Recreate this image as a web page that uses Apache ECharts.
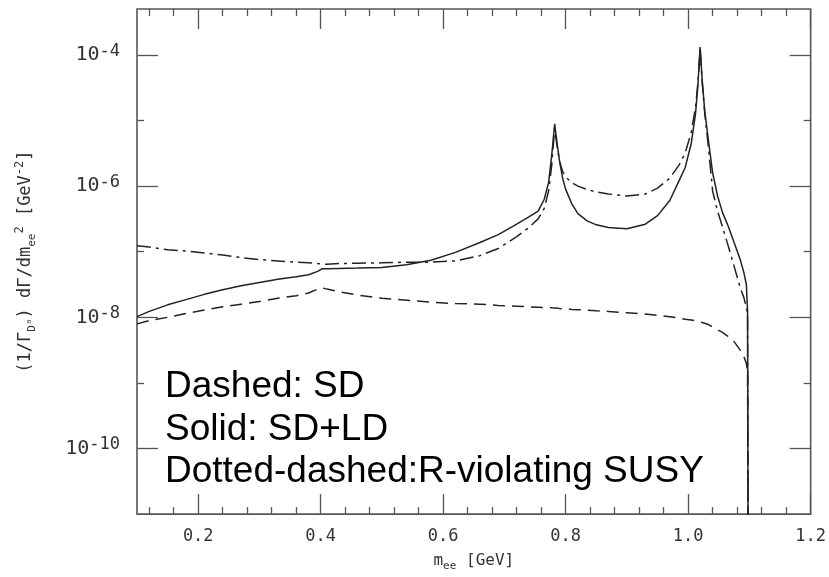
<!DOCTYPE html>
<html>
<head>
<meta charset="utf-8">
<title>D0 -> ee spectrum</title>
<script src="https://cdn.jsdelivr.net/npm/echarts@6/dist/echarts.min.js"></script>
<style>
    html, body { margin: 0; padding: 0; background: #fff; }
    #app { width: 829px; height: 577px; }
</style>
</head>
<body>
<div id="app"></div>
<script>
    // m_ee grid (GeV), shared by the three curves
    var massGrid = [0.10, 0.12, 0.15, 0.18, 0.21, 0.24, 0.27, 0.30, 0.33, 0.36,
        0.38, 0.395, 0.402, 0.41, 0.43, 0.46, 0.50, 0.54, 0.58, 0.62,
        0.66, 0.69, 0.72, 0.74, 0.755, 0.765, 0.772, 0.777, 0.782, 0.786,
        0.79, 0.795, 0.80, 0.81, 0.82, 0.835, 0.85, 0.87, 0.90, 0.93,
        0.95, 0.97, 0.985, 0.995, 1.005, 1.012, 1.016, 1.0195, 1.023, 1.027,
        1.033, 1.04, 1.048, 1.056, 1.065, 1.075, 1.085, 1.091, 1.095, 1.097,
        1.098];

    // log10 of (1/Gamma) dGamma/dm_ee^2
    var logSD = [-8.10, -8.05, -8.00, -7.94, -7.89, -7.84, -7.80, -7.76, -7.71, -7.67,
        -7.63, -7.57, -7.55, -7.57, -7.61, -7.66, -7.71, -7.74, -7.77, -7.79,
        -7.80, -7.82, -7.83, -7.84, -7.845, -7.85, -7.85, -7.855, -7.86, -7.86,
        -7.865, -7.87, -7.87, -7.88, -7.885, -7.89, -7.90, -7.91, -7.93, -7.95,
        -7.97, -7.99, -8.01, -8.03, -8.04, -8.05, -8.06, -8.07, -8.08, -8.09,
        -8.11, -8.15, -8.19, -8.23, -8.29, -8.37, -8.50, -8.60, -8.70, -8.85,
        -12];

    var logSDLD = [-7.99, -7.91, -7.81, -7.73, -7.65, -7.58, -7.52, -7.47, -7.42, -7.38,
        -7.35, -7.30, -7.26, -7.26, -7.255, -7.25, -7.24, -7.20, -7.13, -7.01,
        -6.86, -6.74, -6.58, -6.47, -6.38, -6.20, -5.95, -5.55, -5.05, -5.35,
        -5.62, -5.88, -6.05, -6.27, -6.42, -6.53, -6.59, -6.63, -6.65, -6.58,
        -6.45, -6.22, -5.92, -5.72, -5.35, -4.90, -4.45, -3.88, -4.40, -4.85,
        -5.30, -5.80, -6.15, -6.40, -6.60, -6.86, -7.12, -7.32, -7.50, -7.90,
        -12];

    var logRSUSY = [-6.91, -6.93, -6.97, -6.99, -7.02, -7.05, -7.09, -7.12, -7.14, -7.16,
        -7.17, -7.18, -7.19, -7.19, -7.18, -7.175, -7.17, -7.16, -7.16, -7.14,
        -7.06, -6.95, -6.77, -6.63, -6.50, -6.34, -6.08, -5.70, -5.12, -5.40,
        -5.62, -5.78, -5.86, -5.95, -6.00, -6.05, -6.09, -6.12, -6.15, -6.12,
        -6.03, -5.88, -5.68, -5.50, -5.18, -4.80, -4.42, -3.90, -4.42, -4.88,
        -5.40, -6.08, -6.38, -6.62, -6.90, -7.22, -7.55, -7.70, -7.85, -7.95,
        -12];

    var xMajorTicks = [0.2, 0.4, 0.6, 0.8, 1.0, 1.2];
    var xMinorTicks = [0.12, 0.16, 0.24, 0.28, 0.32, 0.36, 0.44, 0.48, 0.52, 0.56,
        0.64, 0.68, 0.72, 0.76, 0.84, 0.88, 0.92, 0.96, 1.04, 1.08, 1.12, 1.16];
    var yMajorTicks = [-10, -8, -6, -4];
    var yMinorTicks = [-9, -7, -5];

    var legendLines = ['Dashed: SD', 'Solid: SD+LD', 'Dotted-dashed:R-violating SUSY'];

    var frameColor = '#555';
    var textColor = '#333';
    var labelFont = 'DejaVu Sans Mono';

    function pairs(ys) {
        return massGrid.map(function (x, i) { return [x, ys[i]]; });
    }

    // one axis per tick set (major / minor, bottom / top, left / right)
    function xAxisDef(pos, ticks, len, withLabels) {
        return {
            type: 'value', position: pos, min: 0.1, max: 1.2,
            axisLine: {show: false},
            splitLine: {show: false},
            axisTick: {inside: true, length: len, customValues: ticks,
                lineStyle: {color: frameColor, width: 1.3}},
            axisLabel: {show: withLabels, customValues: ticks, margin: 14,
                color: textColor, fontFamily: labelFont, fontSize: 17,
                formatter: function (v) { return v.toFixed(1); }}
        };
    }

    function yAxisDef(pos, ticks, len, withLabels) {
        return {
            type: 'value', position: pos, min: -11, max: -3.3,
            axisLine: {show: false},
            splitLine: {show: false},
            axisTick: {inside: true, length: len, customValues: ticks,
                lineStyle: {color: frameColor, width: 1.3}},
            axisLabel: {show: withLabels, customValues: ticks, margin: 17,
                formatter: function (v) { return '{b|10}{s|' + v + '}'; },
                rich: {
                    b: {fontSize: 20, color: textColor, fontFamily: labelFont, lineHeight: 24},
                    s: {fontSize: 17, color: textColor, fontFamily: labelFont, lineHeight: 14,
                        verticalAlign: 'top'}
                }}
        };
    }

    var xAxes = [
        xAxisDef('bottom', xMajorTicks, 20, true),
        xAxisDef('bottom', xMinorTicks, 7, false),
        xAxisDef('top', xMajorTicks, 20, false),
        xAxisDef('top', xMinorTicks, 7, false)
    ];
    xAxes[0].name = 'm{sub|ee} [GeV]';
    xAxes[0].nameLocation = 'middle';
    xAxes[0].nameGap = 32;
    xAxes[0].nameTextStyle = {
        fontSize: 16, color: textColor, fontFamily: labelFont, lineHeight: 22,
        rich: {sub: {fontSize: 11, color: textColor, fontFamily: labelFont,
            lineHeight: 11, verticalAlign: 'bottom'}}
    };

    var yAxes = [
        yAxisDef('left', yMajorTicks, 21, true),
        yAxisDef('left', yMinorTicks, 7, false),
        yAxisDef('right', yMajorTicks, 21, false),
        yAxisDef('right', yMinorTicks, 7, false)
    ];
    yAxes[0].name = '(1/Γ{sub|D⁰}) dΓ/dm{sub|ee}{sup|2} [GeV{sup|-2}]';
    yAxes[0].nameLocation = 'middle';
    yAxes[0].nameGap = 99;
    yAxes[0].nameTextStyle = {
        fontSize: 17, color: textColor, fontFamily: labelFont, lineHeight: 24,
        rich: {
            sub: {fontSize: 11, color: textColor, fontFamily: labelFont, lineHeight: 12,
                verticalAlign: 'bottom'},
            sup: {fontSize: 12, color: textColor, fontFamily: labelFont, lineHeight: 14,
                verticalAlign: 'top'}
        }
    };

    function curve(name, ys, dash) {
        return {
            name: name, type: 'line', showSymbol: false, data: pairs(ys),
            xAxisIndex: 0, yAxisIndex: 0, clip: true,
            lineStyle: {color: '#222', width: 1.5, type: dash},
            emphasis: {disabled: true}
        };
    }

    var myChart = echarts.init(document.getElementById('app'));
    myChart.setOption({
        animation: false,
        backgroundColor: '#fff',
        grid: {left: 137, right: 14, top: 9, bottom: 53, show: true,
            borderColor: frameColor, borderWidth: 1.6, backgroundColor: 'transparent'},
        xAxis: xAxes,
        yAxis: yAxes,
        series: [
            curve('SD', logSD, [12, 7]),
            curve('R-violating SUSY', logRSUSY, [14, 5, 3, 5]),
            curve('SD+LD', logSDLD, 'solid')
        ],
        graphic: [{
            type: 'text', left: 165, top: 366,
            style: {
                text: legendLines.join('\n'),
                fontSize: 37, lineHeight: 42.5,
                fontFamily: 'Liberation Sans', fill: '#000'
            }
        }]
    });
</script>
</body>
</html>
